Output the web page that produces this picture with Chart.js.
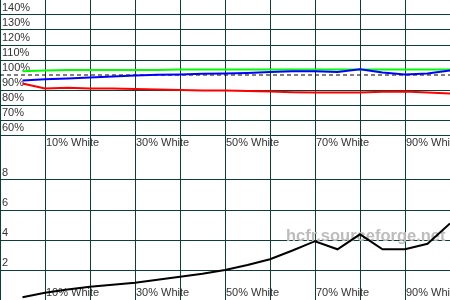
<!DOCTYPE html>
<html>
<head>
<meta charset="utf-8">
<script src="https://cdn.jsdelivr.net/npm/chart.js@4.4.1/dist/chart.umd.min.js"></script>
<style>
  html, body { margin: 0; padding: 0; background: #fff; }
  canvas { display: block; }
</style>
</head>
<body>
<canvas id="rgbChart" width="450" height="150"></canvas>
<canvas id="deltaChart" width="450" height="150"></canvas>
<script>
const levels = [5, 10, 15, 20, 25, 30, 35, 40, 45, 50, 55, 60, 65, 70, 75, 80, 85, 90, 95, 100];
const xLabels = ['10% White', '30% White', '50% White', '70% White', '90% White'];

const redLevel = [94.3, 91.0, 91.5, 91.0, 91.0, 90.7, 90.3, 90.0, 89.7, 89.7, 89.3, 89.0, 88.5, 88.3, 88.3, 88.3, 88.8, 89.0, 88.3, 87.7];
const greenLevel = [102.5, 103.0, 103.3, 103.3, 103.3, 103.3, 103.3, 103.7, 103.7, 103.7, 103.7, 103.7, 103.7, 103.7, 103.7, 103.7, 103.7, 103.7, 103.7, 103.7];
const blueLevel = [96.3, 97.2, 97.7, 98.3, 99.0, 99.7, 100.2, 100.4, 100.8, 101.0, 101.4, 102.0, 102.5, 102.5, 102.0, 103.8, 101.7, 100.3, 101.0, 103.0];
const referenceLevel = [100, 100];
const referenceX = [0, 100];
const rgbTickLabels = ['60%', '70%', '80%', '90%', '100%', '110%', '120%', '130%', '140%'];

const deltaE = [0.18, 0.49, 0.70, 0.89, 1.02, 1.15, 1.35, 1.55, 1.75, 2.0, 2.33, 2.72, 3.3, 3.92, 3.38, 4.38, 3.38, 3.38, 3.75, 5.1];
const deltaTickLabels = ['2', '4', '6', '8'];

const gridColor = '#0b3f38';
Chart.defaults.font.family = "'Liberation Sans', Arial, sans-serif";
Chart.defaults.font.size = 11;
Chart.defaults.color = '#333';

function points(xs, ys) {
  return xs.map((x, i) => ({ x: x, y: ys[i] }));
}

// axes take no room: labels are drawn inside the plot like the original
function noRoom(s) {
  if (s.isHorizontal()) s.height = 0; else s.width = 0;
  s.paddingTop = 0; s.paddingBottom = 0; s.paddingLeft = 0; s.paddingRight = 0;
}

function options(yMin, yMax, step, tickLabels) {
  return {
    responsive: false,
    animation: false,
    events: [],
    plugins: { legend: { display: false }, tooltip: { enabled: false } },
    elements: { point: { radius: 0 }, line: { tension: 0 } },
    scales: {
      x: {
        type: 'linear',
        min: 0,
        max: 100,
        afterFit: noRoom,
        border: { display: false },
        grid: { color: gridColor, drawTicks: false },
        ticks: {
          stepSize: 10,
          autoSkip: false,
          maxRotation: 0,
          mirror: true,
          align: 'start',
          labelOffset: 1,
          padding: 0.6,
          callback: v => xLabels.find(l => parseInt(l) === v) || ''
        }
      },
      y: {
        min: yMin,
        max: yMax,
        afterFit: noRoom,
        border: { display: false },
        grid: {
          drawTicks: false,
          color: c => {
            const label = tickLabels.find(l => parseInt(l) === c.tick.value);
            return label && c.tick.value !== 100 ? gridColor : 'rgba(0,0,0,0)';
          }
        },
        ticks: {
          stepSize: step,
          autoSkip: false,
          mirror: true,
          padding: 2,
          labelOffset: -7,
          callback: v => tickLabels.find(l => parseInt(l) === v) || ''
        }
      }
    }
  };
}

new Chart(document.getElementById('rgbChart'), {
  type: 'line',
  data: {
    datasets: [
      { data: points(levels, blueLevel), borderColor: '#0000ff', borderWidth: 2 },
      { data: points(levels, greenLevel), borderColor: '#00ff00', borderWidth: 2 },
      { data: points(levels, redLevel), borderColor: '#ff0000', borderWidth: 2 },
      { data: points(referenceX, referenceLevel), borderColor: '#000', borderWidth: 1, borderDash: [4, 3] }
    ]
  },
  options: options(50, 150, 10, rgbTickLabels)
});

const watermark = {
  id: 'watermark',
  beforeDatasetsDraw(chart) {
    const ctx = chart.ctx;
    ctx.save();
    ctx.font = "bold 16.5px 'Liberation Sans', Arial, sans-serif";
    ctx.fillStyle = '#bdbdbd';
    ctx.fillText('hcfr.sourceforge.net', 286, 91);
    ctx.restore();
  }
};

new Chart(document.getElementById('deltaChart'), {
  type: 'line',
  data: {
    datasets: [
      { data: points(levels, deltaE), borderColor: '#000', borderWidth: 2 }
    ]
  },
  options: options(0, 10, 2, deltaTickLabels),
  plugins: [watermark]
});
</script>
</body>
</html>
